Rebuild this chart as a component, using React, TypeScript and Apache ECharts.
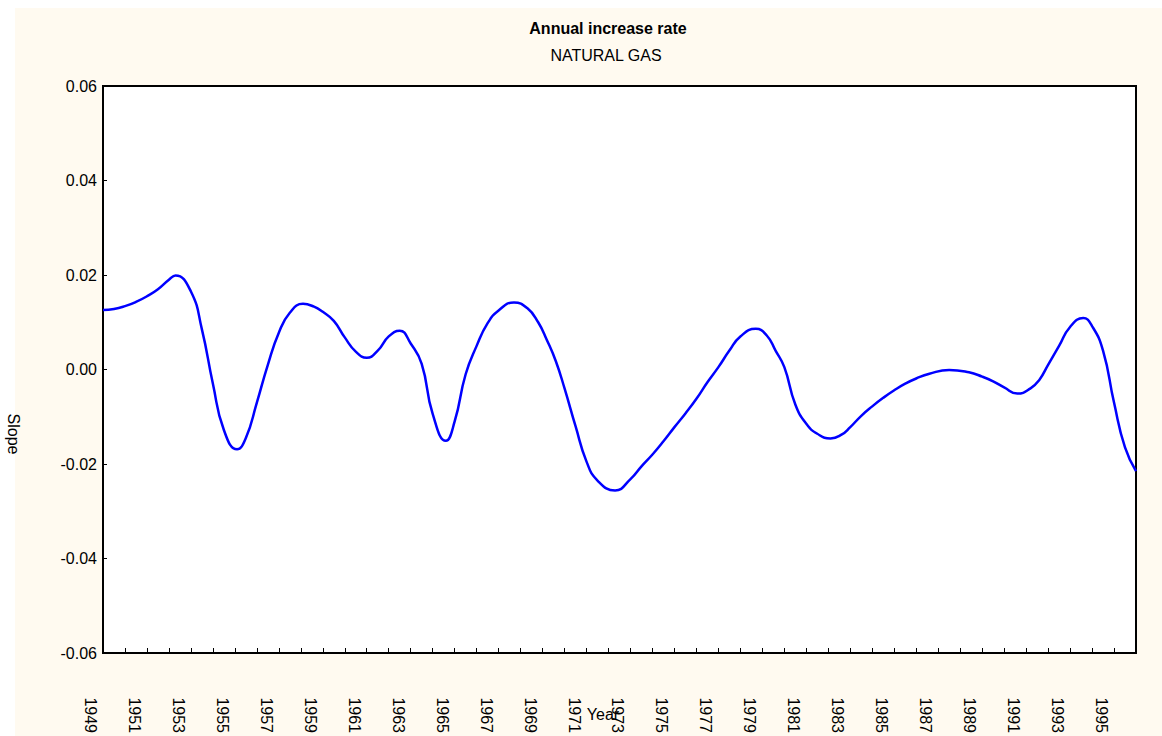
import React, { useEffect, useRef } from "react";
import * as echarts from "echarts";

const TITLE = "Annual increase rate";
const SUBTITLE = "NATURAL GAS";
const X_NAME = "Year";
const Y_NAME = "Slope";
const YEAR_START = 1949;
const YEAR_END = 1996;
const Y_MIN = -0.06;
const Y_MAX = 0.06;
const Y_STEP = 0.02;

// Curve (about every half year, plus each peak and trough)
const years = [
  1949.0, 1949.5, 1950.0, 1950.5, 1951.0, 1951.5, 1952.0, 1952.3, 1953.0, 1953.5,
  1954.0, 1954.5, 1955.1, 1955.5, 1956.0, 1956.5, 1957.0, 1957.5, 1958.1, 1958.6,
  1959.0, 1959.5, 1960.0, 1960.5, 1961.0, 1961.5, 1962.0, 1962.5, 1963.0, 1963.5,
  1964.0, 1964.6, 1965.0, 1965.5, 1966.0, 1966.5, 1967.0, 1967.7, 1968.3, 1968.8,
  1969.2, 1969.6, 1970.0, 1970.5, 1971.0, 1971.5, 1972.3, 1973.0, 1973.5,
  1974.0, 1974.5, 1975.0, 1975.5, 1976.0, 1976.5, 1977.0, 1977.5, 1978.0, 1978.7,
  1979.2, 1979.6, 1980.0, 1980.5, 1981.0, 1981.5, 1982.1, 1982.6, 1983.0, 1983.5,
  1984.0, 1984.5, 1985.0, 1985.5, 1986.0, 1986.6, 1987.5, 1988.4,
  1989.0, 1989.5, 1990.0, 1990.6, 1991.2, 1991.6, 1992.0, 1992.5, 1993.0, 1993.6,
  1994.0, 1994.5, 1995.0, 1995.5, 1996.0,
];
const slope = [
  0.0126, 0.0128, 0.0134, 0.0143, 0.0155, 0.0170, 0.0190, 0.0199, 0.0165, 0.0085,
  -0.0030, -0.0128, -0.0169, -0.0145, -0.0070, 0.0010, 0.0078, 0.0120, 0.0139, 0.0133,
  0.0122, 0.0103, 0.0068, 0.0038, 0.0025, 0.0040, 0.0070, 0.0082, 0.0055, 0.0012,
  -0.0094, -0.0151, -0.0110, -0.0010, 0.0050, 0.0098, 0.0125, 0.0142, 0.0130, 0.0100,
  0.0062, 0.0018, -0.0040, -0.0120, -0.0195, -0.0235, -0.0256, -0.0232, -0.0205,
  -0.0180, -0.0152, -0.0122, -0.0093, -0.0062, -0.0027, 0.0005, 0.0040, 0.0070, 0.0086,
  0.0072, 0.0040, 0.0005, -0.0074, -0.0115, -0.0136, -0.0146, -0.0138, -0.0122, -0.0098,
  -0.0078, -0.0060, -0.0044, -0.0030, -0.0019, -0.0009, -0.0001, -0.0006,
  -0.0015, -0.0025, -0.0038, -0.0051, -0.0040, -0.0022, 0.0010, 0.0050, 0.0090, 0.0109,
  0.0092, 0.0040, -0.0070, -0.0165, -0.0215,
];

const FONT = '"Liberation Sans", Arial, Helvetica, sans-serif';
const SPAN = YEAR_END - YEAR_START;

export default function App() {
  const ref = useRef<HTMLDivElement>(null);
  useEffect(() => {
    if (!ref.current) return;
    const chart = echarts.init(ref.current, undefined, { renderer: "svg" });
    const gridL = 103, gridR = 26, gridT = 86, gridB = 83;
    const labelShift = 12.5;
    chart.setOption({
      animation: false,
      backgroundColor: "#ffffff",
      textStyle: { fontFamily: FONT },
      title: [
        {
          text: TITLE,
          left: 608,
          top: 20,
          textAlign: "center",
          padding: 0,
          textStyle: { fontFamily: FONT, fontSize: 16, fontWeight: "bold", color: "#000" },
        },
        {
          text: SUBTITLE,
          left: 606,
          top: 47,
          textAlign: "center",
          padding: 0,
          textStyle: { fontFamily: FONT, fontSize: 16, fontWeight: "normal", color: "#000" },
        },
      ],
      graphic: [
        {
          type: "rect",
          z: -100,
          silent: true,
          shape: { x: 15, y: 8, width: 1147, height: 728 },
          style: { fill: "#FFFAF0" },
        },
        {
          type: "text",
          x: 13,
          y: 434,
          rotation: -Math.PI / 2,
          style: {
            text: Y_NAME,
            fontFamily: FONT,
            fontSize: 16,
            fill: "#000",
            align: "center",
            verticalAlign: "middle",
          },
        },
        {
          type: "text",
          x: 603,
          y: 714,
          z: 10,
          style: {
            text: X_NAME,
            fontFamily: FONT,
            fontSize: 16,
            fill: "#000",
            align: "center",
            verticalAlign: "middle",
          },
        },
      ],
      grid: [
        {
          left: gridL,
          right: gridR,
          top: gridT,
          bottom: gridB,
          show: true,
          backgroundColor: "#ffffff",
          borderColor: "#000",
          borderWidth: 2,
          containLabel: false,
        },
        {
          left: gridL - labelShift,
          right: gridR + labelShift,
          top: gridT,
          bottom: gridB,
          show: false,
          containLabel: false,
        },
      ],
      xAxis: [
        {
          type: "value",
          gridIndex: 0,
          min: 0,
          max: SPAN,
          interval: 1,
          axisLine: { show: true, onZero: false, lineStyle: { color: "#000", width: 2 } },
          axisTick: { show: true, inside: true, length: 5, lineStyle: { color: "#000", width: 1 } },
          axisLabel: { show: false },
          splitLine: { show: false },
        },
        {
          type: "value",
          gridIndex: 1,
          min: 0,
          max: SPAN,
          interval: 2,
          axisLine: { show: false, onZero: false },
          axisTick: { show: false },
          splitLine: { show: false },
          axisLabel: {
            show: true,
            rotate: -90,
            margin: 45,
            showMaxLabel: false,
            fontFamily: FONT,
            fontSize: 16,
            color: "#000",
            formatter: (v: number) => (Math.round(v) % 2 === 0 ? String(Math.round(v) + YEAR_START) : ""),
          },
        },
      ],
      yAxis: [
        {
          type: "value",
          gridIndex: 0,
          min: Y_MIN,
          max: Y_MAX,
          interval: Y_STEP,
          axisLine: { show: true, onZero: false, lineStyle: { color: "#000", width: 2 } },
          axisTick: { show: true, inside: true, length: 4, lineStyle: { color: "#000", width: 1 } },
          splitLine: { show: false },
          axisLabel: {
            margin: 6,
            fontFamily: FONT,
            fontSize: 16,
            color: "#000",
            formatter: (v: number) => (Math.abs(v) < 1e-9 ? "0.00" : v.toFixed(2)),
          },
        },
        {
          type: "value",
          gridIndex: 1,
          min: Y_MIN,
          max: Y_MAX,
          show: false,
        },
      ],
      series: [
        {
          type: "line",
          xAxisIndex: 0,
          yAxisIndex: 0,
          data: years.map((y, i) => [y - YEAR_START, slope[i]]),
          smooth: 0.5,
          showSymbol: false,
          symbol: "none",
          lineStyle: { color: "#0000ff", width: 2.5 },
        },
      ],
    });
    return () => chart.dispose();
  }, []);
  return (
    <div
      ref={ref}
      style={{ position: "absolute", left: 0, top: 0, width: 1162, height: 736 }}
    />
  );
}
